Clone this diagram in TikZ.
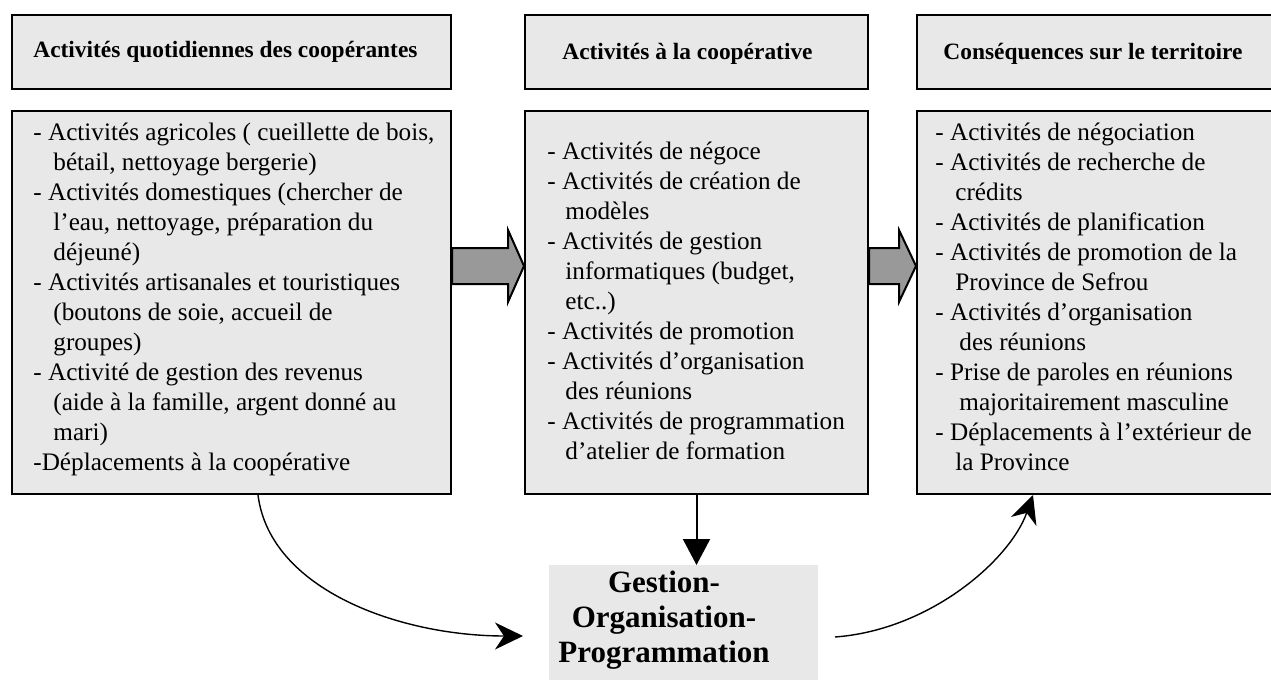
\documentclass[tikz,border=0pt]{standalone}
\usepackage{fontspec}
\setmainfont{Liberation Serif}
\usetikzlibrary{arrows.meta,calc}
\definecolor{boxgray}{RGB}{232,232,232}
\definecolor{arrowgray}{RGB}{153,153,153}
\begin{document}
\begin{tikzpicture}[x=0.5pt,y=-0.5pt,
  box/.style={draw=black,line width=1pt,fill=boxgray,anchor=north west,inner sep=0pt},
  titletext/.style={font=\bfseries\fontsize{11.7}{14}\selectfont,anchor=west,inner sep=0pt},
  bodytext/.style={font=\fontsize{12.6}{15}\selectfont,align=left,anchor=west,inner sep=0pt},
  fatarrow/.style={draw=black,line width=1pt,fill=arrowgray,line join=miter},
  curvearrow/.style={line width=0.7pt,-{Stealth[length=14pt,width=13.5pt,inset=4.5pt]}},
  downarrow/.style={line width=1pt,-{Triangle[length=13pt,width=13.5pt]}}]
\useasboundingbox (0,0) rectangle (1271,680);

% header boxes
\node[box,minimum width=219.5pt,minimum height=37pt] (h1) at (11,14) {};
\node[box,minimum width=171.5pt,minimum height=37pt] (h2) at (524,14) {};
\node[box,minimum width=178.5pt,minimum height=37pt] (h3) at (916,14) {};
\node[titletext] (ht1) at (33,52) {Activités quotidiennes des coopérantes};
\node[titletext] (ht2) at (562,54) {Activités à la coopérative};
\node[titletext] (ht3) at (943,54) {Conséquences sur le territoire};

% body boxes
\node[box,minimum width=219.5pt,minimum height=191.5pt] (b1) at (11,110) {};
\node[box,minimum width=171.5pt,minimum height=191.5pt] (b2) at (524,110) {};
\node[box,minimum width=178.5pt,minimum height=191.5pt] (b3) at (916,110) {};

\node[bodytext] (t1) at (33,299) {- Activités agricoles ( cueillette de bois,\\
\hspace*{10pt}bétail, nettoyage bergerie)\\
- Activités domestiques (chercher de\\
\hspace*{10pt}l’eau, nettoyage, préparation du\\
\hspace*{10pt}déjeuné)\\
- Activités artisanales et touristiques\\
\hspace*{10pt}(boutons de soie, accueil de\\
\hspace*{10pt}groupes)\\
- Activité de gestion des revenus\\
\hspace*{10pt}(aide à la famille, argent donné au\\
\hspace*{10pt}mari)\\
-Déplacements à la coopérative};

\node[bodytext] (t2) at (547,301) {- Activités de négoce\\
- Activités de création de\\
\hspace*{9pt}modèles\\
- Activités de gestion\\
\hspace*{9pt}informatiques (budget,\\
\hspace*{9pt}etc..)\\
- Activités de promotion\\
- Activités d’organisation\\
\hspace*{9pt}des réunions\\
- Activités de programmation\\
\hspace*{9pt}d’atelier de formation};

\node[bodytext] (t3) at (935,297) {- Activités de négociation\\
- Activités de recherche de\\
\hspace*{10pt}crédits\\
- Activités de planification\\
- Activités de promotion de la\\
\hspace*{10pt}Province de Sefrou\\
- Activités d’organisation\\
\hspace*{12pt}des réunions\\
- Prise de paroles en réunions\\
\hspace*{12pt}majoritairement masculine\\
- Déplacements à l’extérieur de\\
\hspace*{10pt}la Province};

% bottom box
\node[fill=boxgray,anchor=north west,minimum width=134.5pt,minimum height=58pt,inner sep=0pt] (gop) at (549,565) {};
\node[font=\bfseries\fontsize{15.5}{17.5}\selectfont,align=center,inner sep=0pt] (gopt) at (664,620) {Gestion-\\Organisation-\\Programmation};

% fat arrows
\draw[fatarrow] ($(b1.east)+(0,-54.5)$) -- ($(b1.east)+(56,-54.5)$) -- ($(b1.east)+(56,-72.5)$)
  -- ($(b2.west)+(0,-36.5)$) -- ($(b1.east)+(56,-0.5)$) -- ($(b1.east)+(56,-18.5)$)
  -- ($(b1.east)+(0,-18.5)$) -- cycle;
\draw[fatarrow] ($(b2.east)+(0,-54.5)$) -- ($(b2.east)+(30,-54.5)$) -- ($(b2.east)+(30,-72.5)$)
  -- ($(b3.west)+(0,-36.5)$) -- ($(b2.east)+(30,-0.5)$) -- ($(b2.east)+(30,-18.5)$)
  -- ($(b2.east)+(0,-18.5)$) -- cycle;

% down arrow
\draw[downarrow] (b2.south) -- (b2.south |- gop.north);

% curved arrows
\coordinate (c1e) at (523,636);
\coordinate (c2s) at (835,637);
\draw[curvearrow] ($(b1.south west)+(247,0)$) .. controls (270,590) and (400,636) .. (c1e);
\draw[curvearrow] (c2s) .. controls (930,630) and (1010,560) .. ($(b3.south west)+(117,0)$);
\end{tikzpicture}
\end{document}
